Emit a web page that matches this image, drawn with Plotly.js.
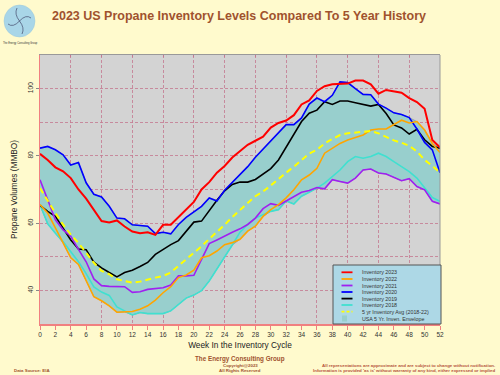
<!DOCTYPE html>
<html><head><meta charset="utf-8">
<script src="https://cdn.plot.ly/plotly-3.0.1.min.js"></script>
<style>html,body{margin:0;padding:0;background:#fffacd;}#chart{width:500px;height:375px;}</style>
</head><body><div id="chart"></div>
<script>
// ---- DATA ----
const weeks = [0,1,2,3,4,5,6,7,8,9,10,11,12,13,14,15,16,17,18,19,20,21,22,23,24,25,26,27,28,29,30,31,32,33,34,35,36,37,38,39,40,41,42,43,44,45,46,47,48,49,50,51,52];
const inv2023 = [80.6,78.8,76.6,75.4,73.4,70,67.3,64,60.6,60.2,60.8,59,57.5,57,57.3,56.5,59.5,59.5,61.8,64,66.3,70,72.2,75,77,79.5,81.3,83.3,84.5,85.7,88.4,89.8,90.5,92.1,95.3,96.5,99.3,100.7,101.3,101.5,101.5,102.4,102.4,101.3,98.5,99.6,99.2,98.8,97.2,96,94,84.7,82.5];
const inv2022 = [65.5,63,58.6,54.1,49.7,47.7,42.8,38.1,36.9,35.4,33.5,33.6,33.7,34.4,35.4,37.1,39.3,41.1,43.8,44.6,46,49.7,50.3,51.7,53.6,54.2,55.2,57.6,59.1,62,64,65.5,67.5,69.9,72.9,74.3,76.3,80.8,82.2,83.7,84.7,85.4,86.2,87.7,88,88,89.2,90.6,89.8,90.2,87.7,83.7,81];
const inv2021 = [72.9,67,61,58,56.1,52.2,48.5,43.4,41.4,41.2,41.2,41.1,39.4,39.6,40.3,40.6,40.8,41.6,44.3,44.3,44.5,49.2,53.9,55,56.2,57.3,58.3,59.6,61.5,64.3,65.8,65.3,66.6,68,69.2,69.7,70.6,70.2,72.9,72.4,71.9,73.4,75.8,76.1,74.9,74.6,73.6,72.6,73.2,70.9,69.9,66.5,65.7];
const inv2020 = [82.3,82.8,81.8,80.3,77.3,78,72,68.6,67.8,65,61.5,61.3,59.5,59.2,59.1,56.9,57.3,56.8,59.6,61.7,63.3,65,67.5,66.6,69.8,72.2,74.6,76.8,79.6,82,84.5,86.7,89.3,89.3,91.3,95.4,97.2,96.1,98,102,101.8,100,98.3,98.2,95.4,94.2,92.8,92.3,91.4,88,84,81.8,75];
const inv2019 = [65.3,63.5,62,58.5,55,52.3,52.1,48.4,46.7,45.3,44,45.3,46,47.1,48.3,50.7,52.2,53.6,54.8,57.6,60.3,60.6,63.8,66.8,69.6,71.5,72.2,72.2,73,74.5,76.2,78.8,82.5,86.2,90.2,92.7,93.6,96.1,95.3,96.3,96.3,95.8,95.3,94.8,95.3,92.6,89.2,88.3,86.5,87.9,84.8,82.8,82.3];
const inv2018 = [65.5,59.8,57,54.5,51.5,48.5,45,41,39.5,38.5,35.1,33.9,32.7,33.4,33.1,33.1,33.1,33.9,35.9,37.7,38.6,39.9,42.8,46.3,49.8,53.5,57.3,59.6,61.5,62.5,63.5,64,66.6,65.7,68,69.2,70.4,71.9,73.9,75.8,78.3,79.8,79.3,79.8,80.8,79.8,78.3,76.8,75.3,73.4,70.6,67.6,66.5];
const avg5yr = [70.4,66.5,63,59.6,56.6,54.1,51.2,48.2,45.8,44.8,43.3,42.8,42.3,42.6,43.3,43.8,44.3,45.3,47.3,49.2,51.2,53.1,55.3,57.3,59.5,61.8,64,66,68,69.4,71.2,73.2,75,76.8,78.8,80.7,81.8,83.7,85,86.2,86.7,86.9,87.2,87.4,86.7,85.7,84.6,83.9,83,81.3,78.8,77,75];
const seriesNames = ['Inventory 2023','Inventory 2022','Inventory 2021','Inventory 2020','Inventory 2019','Inventory 2018'];
const avgName = '5 yr Inventory Avg (2018-22)';
const envName = 'USA 5 Yr. Inven. Envelope';
const xTickVals = [0,2,4,6,8,10,12,14,16,18,20,22,24,26,28,30,32,34,36,38,40,42,44,46,48,50,52];

// ---- STYLE ----
const colors = ['#ff0000','#ffa500','#a020f0','#0000ff','#000000','#40e0d0'];
const widths = [2,1.6,1.6,1.6,1.6,1.6];
const avgColor = '#ffff00';
const envColor = '#98cfcd';
const gridColor = '#c47890';
const axisRed = '#f08080';
const FONT = 'Liberation Sans, Arial, sans-serif';

const yearData = [inv2023, inv2022, inv2021, inv2020, inv2019, inv2018];
const fiveYears = [inv2022, inv2021, inv2020, inv2019, inv2018];
const envMax = weeks.map((w,i)=>Math.max(...fiveYears.map(s=>s[i])));
const envMin = weeks.map((w,i)=>Math.min(...fiveYears.map(s=>s[i])));

const traces = [];
traces.push({x:weeks, y:envMin, xaxis:'x', yaxis:'y', type:'scatter', mode:'lines', line:{color:'#777', width:0.5}, showlegend:false, hoverinfo:'skip'});
traces.push({x:weeks, y:envMax, xaxis:'x', yaxis:'y', type:'scatter', mode:'lines', fill:'tonexty', fillcolor:envColor, line:{color:'#777', width:0.5}, name:envName, showlegend:false});
// lines on the overlay x axis (same scale) so it is drawn on top of the envelope
for (let k = yearData.length-1; k >= 0; k--) {
  traces.push({x:weeks, y:yearData[k], xaxis:'x2', yaxis:'y', type:'scatter', mode:'lines', name:seriesNames[k],
    line:{color:colors[k], width:widths[k]}, showlegend:false});
  if (k === 1) {
    traces.push({x:weeks, y:avg5yr, xaxis:'x2', yaxis:'y', type:'scatter', mode:'lines', name:avgName,
      line:{color:avgColor, width:2, dash:'6px,4px'}, showlegend:false});
  }
}

// paper-coordinate helpers (plot area: x 40..440, y 55..324 px)
const L=40, R=60, T=55, B=51, W=500, H=375;
const px = v => (v-L)/(W-L-R);
const py = v => (H-B-v)/(H-T-B);

const shapes = [];
const annotations = [];
// right border
shapes.push({type:'line', xref:'paper', yref:'paper', x0:1, x1:1, y0:0, y1:1, line:{color:'#999', width:1}, layer:'above'});
// custom compact legend
shapes.push({type:'rect', xref:'paper', yref:'paper', x0:px(333), x1:px(441), y0:py(324), y1:py(265),
  fillcolor:'#add8e6', line:{color:'#555', width:1}, layer:'above'});
const legendRows = [272.3,279,285.5,292,298.6,305,311.7,318.5];
const legendLabels = seriesNames.concat([avgName, envName]);
legendLabels.forEach((lab,i)=>{
  const yy = legendRows[i];
  if (i < 6) {
    shapes.push({type:'line', xref:'paper', yref:'paper', x0:px(341.5), x1:px(352.5), y0:py(yy), y1:py(yy),
      line:{color:colors[i], width:1.8}, layer:'above'});
  } else if (i === 6) {
    shapes.push({type:'line', xref:'paper', yref:'paper', x0:px(341.5), x1:px(352.5), y0:py(yy), y1:py(yy),
      line:{color:avgColor, width:1.8, dash:'3px,2px'}, layer:'above'});
  } else {
    shapes.push({type:'rect', xref:'paper', yref:'paper', x0:px(342), x1:px(347), y0:py(yy+3), y1:py(yy-3),
      fillcolor:envColor, line:{width:0}, layer:'above'});
  }
  annotations.push({xref:'paper', yref:'paper', x:px(360), y:py(yy), xanchor:'left', yanchor:'middle',
    text:lab, showarrow:false, font:{family:FONT, size:5.3, color:'#333'}});
});

// logo
shapes.push({type:'circle', xref:'paper', yref:'paper', x0:px(4), x1:px(35), y0:py(37), y1:py(5),
  fillcolor:'#a9d6e8', line:{color:'#9cc8da', width:0.5}, layer:'above'});
shapes.push({type:'path', xref:'paper', yref:'paper', layer:'above', line:{color:'#335', width:0.6},
  path:`M ${px(19.5)} ${py(21)} Q ${px(26)} ${py(14)} ${px(31)} ${py(18)} M ${px(19.5)} ${py(21)} Q ${px(13)} ${py(28)} ${px(8)} ${py(24)} M ${px(19.5)} ${py(21)} Q ${px(25)} ${py(28)} ${px(22)} ${py(34)} M ${px(19.5)} ${py(21)} Q ${px(14)} ${py(14)} ${px(17)} ${py(8)}`});
annotations.push({xref:'paper', yref:'paper', x:px(20), y:py(43), text:'The Energy Consulting Group', showarrow:false,
  font:{family:FONT, size:2.6, color:'#333'}, xanchor:'center', yanchor:'middle'});

// footer
const sienna = '#a0522d';
annotations.push({xref:'paper', yref:'paper', x:px(240), y:py(359.3), text:'<b>The Energy Consulting Group</b>', showarrow:false,
  font:{family:FONT, size:6.3, color:sienna}, xanchor:'center', yanchor:'middle'});
annotations.push({xref:'paper', yref:'paper', x:px(240), y:py(365.5), text:'<b>Copyright@2023</b>', showarrow:false,
  font:{family:FONT, size:4.4, color:sienna}, xanchor:'center', yanchor:'middle'});
annotations.push({xref:'paper', yref:'paper', x:px(240), y:py(370.5), text:'<b>All Rights Reserved</b>', showarrow:false,
  font:{family:FONT, size:4.4, color:sienna}, xanchor:'center', yanchor:'middle'});
annotations.push({xref:'paper', yref:'paper', x:px(12), y:py(370.5), text:'<b>Data Source: EIA</b>', showarrow:false,
  font:{family:FONT, size:4.4, color:sienna}, xanchor:'left', yanchor:'middle'});
annotations.push({xref:'paper', yref:'paper', x:px(497), y:py(365.5), text:'<b>All representations are approximate and are subject to change without notification.</b>', showarrow:false,
  font:{family:FONT, size:4.4, color:'#b5533c'}, xanchor:'right', yanchor:'middle'});
annotations.push({xref:'paper', yref:'paper', x:px(497), y:py(370.5), text:"<b>Information is provided 'as is' without warranty of any kind, either expressed or implied</b>", showarrow:false,
  font:{family:FONT, size:4.4, color:'#b5533c'}, xanchor:'right', yanchor:'middle'});

const layout = {
  width:W, height:H,
  margin:{l:L, r:R, t:T, b:B, pad:0},
  paper_bgcolor:'#fffacd', plot_bgcolor:'#d3d3d3',
  font:{family:FONT},
  showlegend:false,
  title:{text:'<b>2023 US Propane Inventory Levels Compared To 5 Year History</b>',
    font:{family:FONT, size:12.5, color:sienna}, x:0.478, xanchor:'center', xref:'container',
    y:1-16/375, yanchor:'middle', yref:'container'},
  xaxis:{range:[0,52], tickvals:xTickVals, showgrid:false, zeroline:false,
    showline:true, linecolor:axisRed, linewidth:1.5, ticks:'outside', ticklen:4, tickcolor:axisRed, tickwidth:1,
    tickfont:{family:FONT, size:6.5, color:'#333'}, automargin:false,
    title:{text:'Week In the Inventory Cycle', font:{family:FONT, size:8.3, color:'#222'}, standoff:5}},
  xaxis2:{range:[0,52], overlaying:'x', side:'top', anchor:'y', dtick:4, tick0:0, showgrid:true,
    gridcolor:gridColor, griddash:'3px,2px', gridwidth:0.8, zeroline:false, showticklabels:false,
    showline:true, linecolor:'#999', linewidth:1, ticks:'inside', ticklen:2, tickcolor:gridColor, automargin:false},
  yaxis:{range:[30,110], dtick:20, tick0:0, showgrid:true, gridcolor:gridColor, griddash:'3px,2px', gridwidth:0.8,
    minor:{dtick:10, tick0:0, showgrid:true, gridcolor:gridColor, griddash:'3px,2px', gridwidth:0.8, ticks:''},
    zeroline:false, showline:true, linecolor:axisRed, linewidth:1.5, ticks:'outside', ticklen:3, tickcolor:'#888',
    tickangle:-90, tickfont:{family:FONT, size:6.6, color:'#333'}, automargin:false,
    title:{text:'Propane Volumes (MMBO)', font:{family:FONT, size:8.3, color:'#222'}, standoff:8}},
  shapes:shapes, annotations:annotations
};
Plotly.newPlot('chart', traces, layout, {displayModeBar:false, staticPlot:true});
</script></body></html>
